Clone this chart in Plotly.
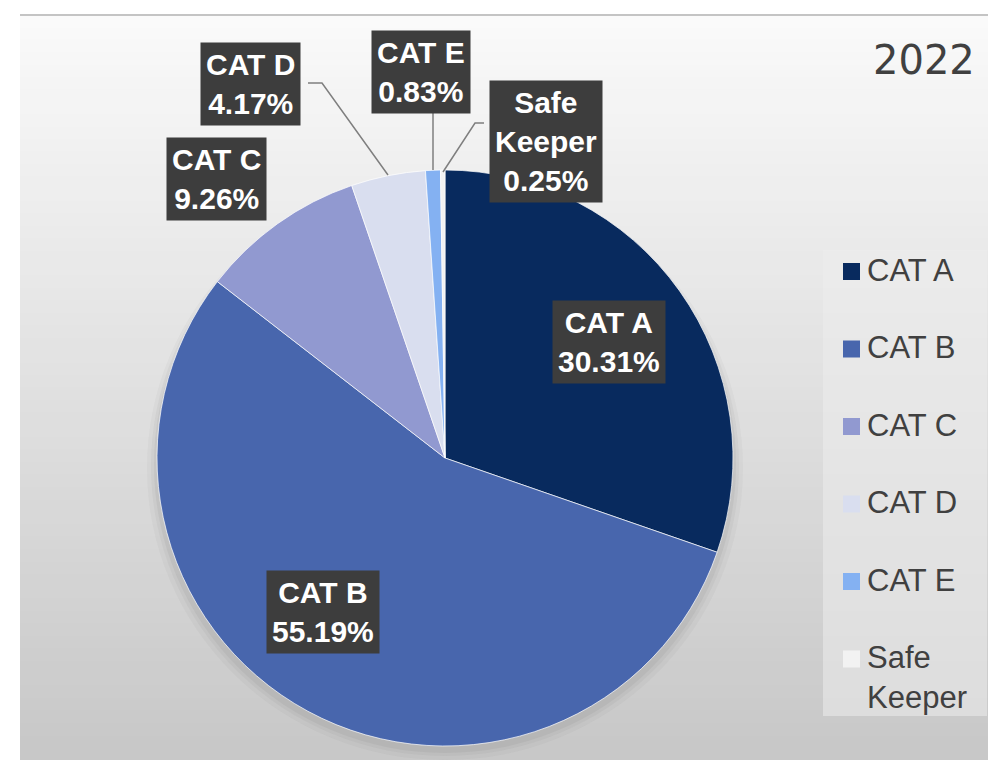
import plotly.graph_objects as go

labels = ["CAT A", "CAT B", "CAT C", "CAT D", "CAT E", "Safe Keeper"]
shares = [30.31, 55.19, 9.26, 4.17, 0.83, 0.25]
colors = ["#082a5e", "#4866ad", "#9199d0", "#d9deef", "#84b1f2", "#f2f2f2"]
legend_names = ["CAT A", "CAT B", "CAT C", "CAT D", "CAT E", "Safe<br>Keeper"]
box_names = ["CAT A", "CAT B", "CAT C", "CAT D", "CAT E", "Safe<br>Keeper"]

# label box centres (window px) and leader lines
box_pos = [(609, 342), (323, 612), (216, 179), (250, 84), (421, 72), (546, 141)]
leaders = {
    3: [(308, 83), (322, 83), (388, 175)],
    4: [(433, 113), (433, 170)],
    5: [(484, 123), (475, 123), (443, 172)],
}

# page body has an 8px margin, so the figure is a bit smaller than the window
OFF = 8
W, H = 996 - OFF, 760 - OFF
fx = lambda x: (x - OFF) / W
fy = lambda y: 1 - (y - OFF) / H

fig = go.Figure()

fig.add_trace(go.Pie(
    labels=labels,
    values=shares,
    sort=False,
    direction="clockwise",
    rotation=0,
    textinfo="none",
    hoverinfo="label+percent",
    marker=dict(colors=colors, line=dict(color="rgba(255,255,255,0.7)", width=1)),
    domain=dict(x=[fx(157), fx(733)], y=[fy(746), fy(170)]),
    showlegend=False,
))

shapes = []

# background gradient in the chart area
top, bottom, left, right = 15, 760, 20, 991
n = 60
for i in range(n):
    t = i / (n - 1)
    c = int(250 - 50 * t)
    y0 = top + (bottom - top) * i / n
    y1 = top + (bottom - top) * (i + 1) / n + 1
    shapes.append(dict(type="rect", xref="paper", yref="paper", layer="below",
                       x0=fx(left), x1=fx(right), y0=fy(y1), y1=fy(y0),
                       line=dict(width=0), fillcolor=f"rgb({c},{c},{c})"))
shapes.append(dict(type="line", xref="paper", yref="paper", layer="below",
                   x0=fx(left), x1=fx(right), y0=fy(top), y1=fy(top),
                   line=dict(color="#c4c4c4", width=2)))

# soft shadow behind pie (mostly below)
cx, cy, r = 445, 458, 288
for k, op in [(10, 0.04), (6, 0.05), (3, 0.07)]:
    shapes.append(dict(type="circle", xref="paper", yref="paper", layer="below",
                       x0=fx(cx - r - k), x1=fx(cx + r + k),
                       y0=fy(cy + r + k + 4), y1=fy(cy - r + 6),
                       line=dict(width=0), fillcolor=f"rgba(80,80,80,{op})"))

# legend box
shapes.append(dict(type="rect", xref="paper", yref="paper", layer="below",
                   x0=fx(823), x1=fx(987), y0=fy(716), y1=fy(250),
                   line=dict(width=0), fillcolor="rgba(236,236,236,0.55)"))

annotations = []
leg_y0, leg_step = 271.5, 77.5
for i, (name, col) in enumerate(zip(legend_names, colors)):
    yy = leg_y0 + i * leg_step
    shapes.append(dict(type="rect", xref="paper", yref="paper",
                       x0=fx(843), x1=fx(860), y0=fy(yy + 8.5), y1=fy(yy - 8.5),
                       line=dict(width=0), fillcolor=col))
    annotations.append(dict(x=fx(865), y=fy(yy - 21), xref="paper", yref="paper",
                            text=name, showarrow=False, xanchor="left", yanchor="top",
                            align="left",
                            font=dict(family="Liberation Sans, Arial", size=31, color="#404040")))

# leader lines
for idx, pts in leaders.items():
    path = "M " + " L ".join(f"{fx(x)},{fy(y)}" for x, y in pts)
    shapes.append(dict(type="path", xref="paper", yref="paper", path=path,
                       line=dict(color="#7f7f7f", width=1.5)))

# data label boxes
for i, (name, val) in enumerate(zip(box_names, shares)):
    x, y = box_pos[i]
    annotations.append(dict(x=fx(x), y=fy(y), xref="paper", yref="paper",
                            xanchor="center", yanchor="middle",
                            text=f"{name}<br>{val:.2f}%", showarrow=False,
                            bgcolor="#3d3d3d", borderpad=5,
                            font=dict(family="Liberation Sans, Arial", size=30, color="white",
                                      weight="bold")))

annotations.append(dict(x=fx(924), y=fy(60), xref="paper", yref="paper", text="2022",
                        xanchor="center", yanchor="middle", showarrow=False,
                        font=dict(family="DejaVu Sans", size=40, color="#404040")))

fig.update_layout(
    width=W, height=H,
    margin=dict(l=0, r=0, t=0, b=0),
    paper_bgcolor="white",
    plot_bgcolor="white",
    shapes=shapes,
    annotations=annotations,
)

fig.write_html("out.html")
